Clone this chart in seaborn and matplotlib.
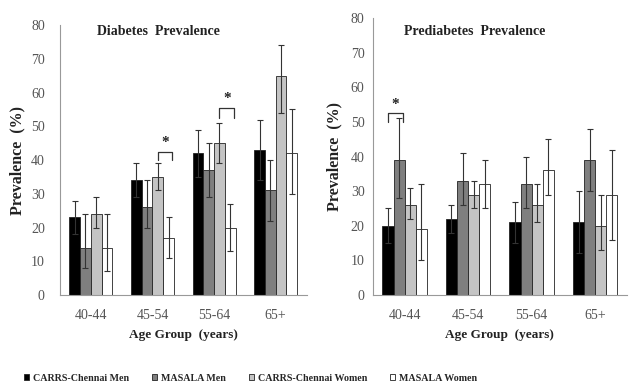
import numpy as np
import pandas as pd
import matplotlib
matplotlib.use("Agg")
import matplotlib.pyplot as plt
import seaborn as sns

# data
age_groups = ["40-44", "45-54", "55-64", "65+"]
groups = ["CARRS-Chennai Men", "MASALA Men", "CARRS-Chennai Women", "MASALA Women"]
colors = ["#000000", "#7f7f7f", "#c4c4c4", "#ffffff"]

# diabetes prevalence (%) per group, one value per age group
dm_carrs_men = [23, 34, 42, 43]
dm_masala_men = [14, 26, 37, 31]
dm_carrs_women = [24, 35, 45, 65]
dm_masala_women = [14, 17, 20, 42]
dm_low = [[18, 29, 35, 34], [8, 20, 29, 22], [20, 31, 39, 54], [7, 11, 13, 30]]
dm_high = [[28, 39, 49, 52], [24, 34, 45, 40], [29, 39, 51, 74], [24, 23, 27, 55]]

# prediabetes prevalence (%)
pre_carrs_men = [20, 22, 21, 21]
pre_masala_men = [39, 33, 32, 39]
pre_carrs_women = [26, 29, 26, 20]
pre_masala_women = [19, 32, 36, 29]
pre_low = [[15, 18, 15, 12], [28, 26, 25, 30], [22, 25, 21, 13], [10, 25, 29, 16]]
pre_high = [[25, 26, 27, 30], [51, 41, 40, 48], [31, 33, 32, 29], [32, 39, 45, 42]]

# significance brackets: (age index, hue a, hue b, bracket height, tick drop)
dm_sig = [(1, 2, 3, 42.5, 2.5), (2, 2, 3, 55.5, 3)]
pre_sig = [(0, 0, 1, 52.5, 2.5)]


def long_table(series):
    rows = []
    for g, vals in zip(groups, series):
        for a, v in zip(age_groups, vals):
            rows.append({"age": a, "group": g, "value": v})
    return pd.DataFrame(rows)


sns.set_style("white")
plt.rcParams["font.family"] = ["Liberation Serif", "DejaVu Serif"]

fig = plt.figure(figsize=(6.32, 3.90), dpi=100)
ax1 = fig.add_axes([0.095, 0.2436, 0.39, 0.692])
ax2 = fig.add_axes([0.59, 0.2436, 0.402, 0.710])


def draw(ax, series, low, high, sig, title, title_y, ypad, ylabpad):
    df = long_table(series)
    sns.barplot(data=df, x="age", y="value", hue="group", hue_order=groups,
                palette=colors, width=0.7, errorbar=None, ax=ax,
                edgecolor="#222222", linewidth=0.6, legend=True)
    bars = list(ax.containers)
    centers = []
    for k, cont in enumerate(bars):
        xs = [p.get_x() + p.get_width() / 2 for p in cont.patches]
        centers.append(xs)
        vals = np.array(series[k])
        lo = vals - np.array(low[k])
        hi = np.array(high[k]) - vals
        ax.errorbar(xs, vals, yerr=[lo, hi], fmt="none", ecolor="#333333",
                    elinewidth=0.8, capsize=2.2, capthick=0.8)
    for ai, ha, hb, h, d in sig:
        x0 = centers[ha][ai]
        x1 = centers[hb][ai] + 0.06
        ax.plot([x0, x0, x1, x1], [h - d, h, h, h - d], color="#333333", lw=0.9)
        ax.text((x0 + x1) / 2, h + 0.8, "*", ha="center", va="bottom",
                fontsize=11, fontweight="bold", color="#222222")
    ax.set_ylim(0, 80)
    ax.set_xlim(-0.5, 3.5)
    ax.set_yticks(range(0, 81, 10))
    ax.set_xticks(range(4))
    ax.set_xticklabels(age_groups)
    ax.tick_params(axis="x", labelsize=10, colors="#555555", length=0, pad=10)
    # category separator ticks, Excel style
    ax.set_xticks([0.5, 1.5, 2.5], minor=True)
    ax.tick_params(axis="x", which="minor", length=4, color="#999999", direction="out")
    ax.tick_params(axis="y", labelsize=10, colors="#555555", length=3,
                   color="#999999", direction="out", pad=ypad)
    for s in ["top", "right"]:
        ax.spines[s].set_visible(False)
    for s in ["left", "bottom"]:
        ax.spines[s].set_color("#999999")
        ax.spines[s].set_linewidth(0.8)
    ax.set_xlabel("Age Group  (years)", fontsize=9.5, fontweight="bold", color="#222222", labelpad=5)
    ax.set_ylabel("Prevalence  (%)", fontsize=11.5, fontweight="bold", color="#222222",
                  labelpad=ylabpad)
    ax.text(0.4, title_y, title, transform=ax.transAxes, ha="center", va="center",
            fontsize=10, fontweight="bold", color="#222222")
    handles, labels = ax.get_legend_handles_labels()
    ax.get_legend().remove()
    return handles, labels


handles, labels = draw(ax1, [dm_carrs_men, dm_masala_men, dm_carrs_women, dm_masala_women],
                       dm_low, dm_high, dm_sig, "Diabetes  Prevalence", 0.975, 8, 4)
draw(ax2, [pre_carrs_men, pre_masala_men, pre_carrs_women, pre_masala_women],
     pre_low, pre_high, pre_sig, "Prediabetes  Prevalence", 0.95, 3, 6)

fig.legend(handles, labels, loc="center", bbox_to_anchor=(0.396, 0.03), ncol=4,
           frameon=False, handlelength=0.5, handleheight=0.5,
           handletextpad=0.4, columnspacing=2.3,
           prop={"weight": "bold", "size": 7.2})

fig.savefig("out.png", dpi=100)
